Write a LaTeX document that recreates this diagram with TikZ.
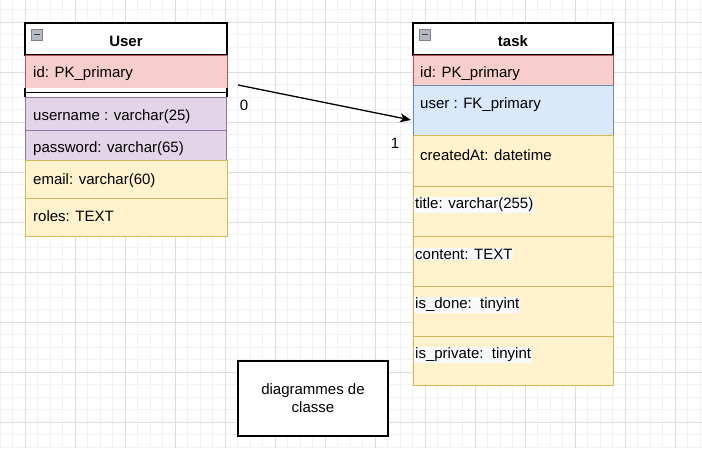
\documentclass[tikz,border=0pt]{standalone}
\usepackage{fontspec}
\setmainfont{Liberation Sans}
\usetikzlibrary{arrows.meta}
\definecolor{redF}{HTML}{F8CECC}
\definecolor{redD}{HTML}{B85450}
\definecolor{purF}{HTML}{E1D5E7}
\definecolor{purD}{HTML}{9673A6}
\definecolor{yelF}{HTML}{FFF2CC}
\definecolor{yelD}{HTML}{D6B656}
\definecolor{bluF}{HTML}{DAE8FC}
\definecolor{bluD}{HTML}{6C8EBF}
\definecolor{gridMinor}{HTML}{F2F2F2}
\definecolor{gridMajor}{HTML}{DDDDDD}
\definecolor{lblbg}{HTML}{F8F9FA}
\definecolor{iconF}{HTML}{B4B8C0}
\definecolor{iconD}{HTML}{7D828C}
\begin{document}
\begin{tikzpicture}[x=1pt,y=-1pt,
  tbl/.style={draw, line width=1pt, anchor=north west, inner sep=0pt, outer sep=0pt},
  hdr/.style={tbl, draw=black, fill=white, line width=1.4pt},
  txt/.style={font=\fontsize{15pt}{18pt}\selectfont, inner sep=0pt, anchor=west, yshift=-2pt},
  lbl/.style={txt, fill=lblbg, inner sep=1pt},
  ttl/.style={font=\fontsize{15pt}{18pt}\selectfont\bfseries, inner sep=0pt, yshift=-1.5pt},
  minicon/.style={draw=iconD, fill=iconF, line width=0.8pt, minimum size=11pt, inner sep=0pt,
    path picture={\draw[line width=1.6pt, black!75] ([xshift=2.5pt]path picture bounding box.west) -- ([xshift=-2.5pt]path picture bounding box.east);}},
  conn/.style={line width=1.3pt, -{Stealth[length=11pt,width=9pt,inset=3pt]}},
  notebox/.style={draw, line width=1.4pt, fill=white, minimum width=150pt, minimum height=75pt, align=center, font=\fontsize{15pt}{18pt}\selectfont}
]
\useasboundingbox (0,0) rectangle (702,448);
\fill[white] (0,0) rectangle (702,448);
% grid
\foreach \gx in {0,12.5,...,700} \draw[gridMinor, line width=1pt] (\gx,0) -- (\gx,448);
\foreach \gy in {-3,9.5,...,448} \draw[gridMinor, line width=1pt] (0,\gy) -- (702,\gy);
\foreach \gx in {25,75,...,675} \draw[gridMajor, line width=1pt] (\gx,0) -- (\gx,448);
\foreach \gy in {22,72,...,422} \draw[gridMajor, line width=1pt] (0,\gy) -- (702,\gy);

% ---------- User table ----------
\node[hdr, minimum width=202pt, minimum height=32pt] (uhdr) at (25,23) {};
\node[ttl] (uttl) at (126,40) {User};
\node[minicon] (umin) at (36.75,34.5) {};
\node[tbl, fill=redF, draw=redD, minimum width=202pt, minimum height=33pt] (uid) at (25,55) {};
\node[txt] (uidt) at (33,72) {id: PK\_primary};
\node[tbl, draw=none, fill=white, minimum width=202pt, minimum height=9pt] (usep) at (25,88) {};
\draw[black, line width=1.5pt] (usep.west) -- (usep.east);
\draw[black, line width=1.4pt] (usep.north west) -- (usep.south west) (usep.north east) -- (usep.south east);
\node[tbl, fill=purF, draw=purD, minimum width=201pt, minimum height=33pt] (uname) at (25,97) {};
\node[txt] (unamet) at (33,115) {username : varchar(25)};
\node[tbl, fill=purF, draw=purD, minimum width=201pt, minimum height=30pt] (upass) at (25,130) {};
\node[txt] (upasst) at (33,147) {password: varchar(65)};
\node[tbl, fill=yelF, draw=yelD, minimum width=202pt, minimum height=38pt] (umail) at (25,160) {};
\node[txt] (umailt) at (33,179) {email: varchar(60)};
\node[tbl, fill=yelF, draw=yelD, minimum width=202pt, minimum height=38pt] (uroles) at (25,198) {};
\node[txt] (urolest) at (33,214) {roles: TEXT};

% ---------- task table ----------
\node[hdr, minimum width=200pt, minimum height=32pt] (thdr) at (413,23) {};
\node[ttl] (tttl) at (513,40) {task};
\node[minicon] (tmin) at (424.5,34.5) {};
\node[tbl, fill=redF, draw=redD, minimum width=200pt, minimum height=30pt] (tid) at (413,55) {};
\node[txt] (tidt) at (420,72) {id: PK\_primary};
\node[tbl, fill=bluF, draw=bluD, minimum width=200pt, minimum height=50pt] (tuser) at (413,85) {};
\node[txt] (tusert) at (420,103) {user : FK\_primary};
\node[tbl, fill=yelF, draw=yelD, minimum width=200pt, minimum height=51pt] (tcreated) at (413,135) {};
\node[txt] (tcreatedt) at (420,153) {createdAt: datetime};
\node[tbl, fill=yelF, draw=yelD, minimum width=200pt, minimum height=50pt] (ttitle) at (413,186) {};
\node[lbl] (ttitlet) at (414,203) {title: varchar(255)};
\node[tbl, fill=yelF, draw=yelD, minimum width=200pt, minimum height=50pt] (tcontent) at (413,236) {};
\node[lbl] (tcontentt) at (414,252) {content: TEXT};
\node[tbl, fill=yelF, draw=yelD, minimum width=200pt, minimum height=50pt] (tdone) at (413,286) {};
\node[lbl] (tdonet) at (414,303) {is\_done:\ \ tinyint};
\node[tbl, fill=yelF, draw=yelD, minimum width=200pt, minimum height=49pt] (tpriv) at (413,336) {};
\node[lbl] (tprivt) at (414,353) {is\_private:\ \ tinyint};

% ---------- connector ----------
\coordinate (asrc) at (238,85);
\coordinate (adst) at (411,120);
\draw[conn] (asrc) -- (adst);
\node[txt, anchor=center] (lbl0) at (244,103) {0};
\node[txt, anchor=center] (lbl1) at (395,141) {1};

% ---------- note ----------
\node[notebox] (note) at (313,398.5) {diagrammes de\\classe};
\end{tikzpicture}
\end{document}
